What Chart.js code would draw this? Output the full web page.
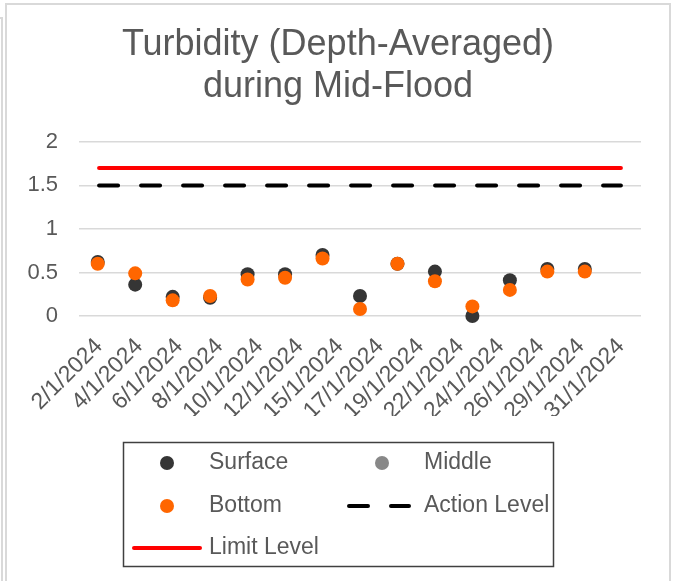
<!DOCTYPE html>
<html>
<head>
<meta charset="utf-8">
<script src="https://cdn.jsdelivr.net/npm/chart.js@4.4.1/dist/chart.umd.min.js"></script>
<style>
  html, body { margin: 0; padding: 0; background: #fff; overflow: hidden; }
  #left-edge { position: absolute; left: -12px; top: 17px; width: 11px; height: 600px; border: 2px solid #d9d9d9; }
  #frame { position: absolute; left: 5px; top: 3px; width: 662px; height: 600px; border: 2px solid #d9d9d9; background: #fff; }
  #wrap { position: absolute; left: 0; top: 0; width: 662px; height: 576px; }
</style>
</head>
<body>
<div id="left-edge"></div>
<div id="frame"><div id="wrap"><canvas id="turbidity-chart"></canvas></div></div>
<script>
var dates = ["2/1/2024", "4/1/2024", "6/1/2024", "8/1/2024", "10/1/2024", "12/1/2024", "15/1/2024",
             "17/1/2024", "19/1/2024", "22/1/2024", "24/1/2024", "26/1/2024", "29/1/2024", "31/1/2024"];
var surface = [0.62, 0.36, 0.22, 0.21, 0.48, 0.48, 0.70, 0.23, 0.60, 0.51, 0.00, 0.41, 0.54, 0.54];
var middle = [null, null, null, null, null, null, null, null, null, null, null, null, null, null];
var bottom = [0.60, 0.49, 0.18, 0.23, 0.42, 0.44, 0.66, 0.08, 0.60, 0.40, 0.11, 0.30, 0.51, 0.51];
var actionLevel = [1.5, 1.5, 1.5, 1.5, 1.5, 1.5, 1.5, 1.5, 1.5, 1.5, 1.5, 1.5, 1.5, 1.5];
var limitLevel = [1.7, 1.7, 1.7, 1.7, 1.7, 1.7, 1.7, 1.7, 1.7, 1.7, 1.7, 1.7, 1.7, 1.7];
var yTicks = [0, 0.5, 1, 1.5, 2];

var FONT = '"Liberation Sans", Arial, sans-serif';
var TEXT = '#595959';
Chart.defaults.font.family = FONT;
Chart.defaults.color = TEXT;

// the dots sit on a hidden axis with one spare slot, like the excel sheet
var dotSlots = dates.concat([""]);

// legend drawn inside a box, two columns
var legendBox = { x: 116.5, y: 437.5, w: 430, h: 124 };
var legendSlots = [
  { x: 160, y: 458, textX: 202 },
  { x: 375, y: 458, textX: 417 },
  { x: 160, y: 501, textX: 202 },
  { x: 340, x2: 404, y: 501, textX: 417 },
  { x: 125, x2: 195, y: 543, textX: 202 }
];

var boxLegend = {
  id: 'boxLegend',
  afterDraw: function (chart) {
    var ctx = chart.ctx;
    ctx.save();
    ctx.strokeStyle = '#404040';
    ctx.lineWidth = 1.5;
    ctx.strokeRect(legendBox.x, legendBox.y, legendBox.w, legendBox.h);
    ctx.beginPath();
    ctx.rect(legendBox.x, legendBox.y, legendBox.w, legendBox.h);
    ctx.clip();
    chart.data.datasets.forEach(function (ds, i) {
      var s = legendSlots[i];
      if (s.x2) {
        ctx.save();
        ctx.strokeStyle = ds.borderColor;
        ctx.lineWidth = ds.borderWidth;
        ctx.lineCap = 'round';
        ctx.setLineDash(ds.borderDash || []);
        ctx.beginPath();
        ctx.moveTo(s.x + 2, s.y);
        ctx.lineTo(s.x2 - 2, s.y);
        ctx.stroke();
        ctx.restore();
      } else {
        ctx.fillStyle = ds.backgroundColor;
        ctx.beginPath();
        ctx.arc(s.x, s.y, 7, 0, Math.PI * 2);
        ctx.fill();
      }
      ctx.fillStyle = TEXT;
      ctx.font = '23px ' + FONT;
      ctx.textBaseline = 'middle';
      ctx.textAlign = 'left';
      ctx.fillText(ds.label, s.textX, s.y);
    });
    ctx.restore();
  }
};

function dots(label, values, colour, order) {
  return {
    label: label,
    data: values,
    xAxisID: 'x2',
    showLine: false,
    clip: false,
    backgroundColor: colour,
    borderColor: colour,
    pointRadius: 7,
    pointBorderWidth: 0,
    pointHoverRadius: 7,
    order: order
  };
}

new Chart(document.getElementById('turbidity-chart'), {
  type: 'line',
  data: {
    labels: dates,
    datasets: [
      dots('Surface', surface, '#353535', 3),
      dots('Middle', middle, '#888888', 2),
      dots('Bottom', bottom, '#ff6600', 1),
      {
        label: 'Action Level',
        data: actionLevel,
        borderColor: '#000000',
        backgroundColor: '#000000',
        borderWidth: 4,
        borderDash: [19, 23],
        borderCapStyle: 'round',
        pointRadius: 0,
        order: 0
      },
      {
        label: 'Limit Level',
        data: limitLevel,
        borderColor: '#ff0000',
        backgroundColor: '#ff0000',
        borderWidth: 4,
        borderCapStyle: 'round',
        pointRadius: 0,
        order: 0
      }
    ]
  },
  options: {
    responsive: true,
    maintainAspectRatio: false,
    animation: false,
    layout: { padding: { left: 0, right: 0, top: 0, bottom: 165 } },
    plugins: {
      legend: { display: false },
      tooltip: { enabled: false },
      title: {
        display: true,
        text: ['Turbidity (Depth-Averaged)', 'during Mid-Flood'],
        color: TEXT,
        font: { size: 36, weight: 'normal', lineHeight: 1.186 },
        padding: { top: 18.5, bottom: 33 }
      }
    },
    scales: {
      x: {
        offset: true,
        grid: { display: false, drawTicks: false },
        border: { display: false },
        ticks: { autoSkip: false, minRotation: 45, maxRotation: 45, padding: 17, color: TEXT, font: { size: 23 } },
        afterFit: function (s) { s.height = 100; }
      },
      x2: {
        type: 'category',
        labels: dotSlots,
        offset: true,
        display: false
      },
      y: {
        min: 0,
        max: 2,
        grid: { color: '#d9d9d9', lineWidth: 1.5, drawTicks: false },
        border: { display: false },
        ticks: {
          padding: 21, color: TEXT, font: { size: 22 },
          callback: function (v) { return String(v); }
        },
        afterBuildTicks: function (s) { s.ticks = yTicks.map(function (v) { return { value: v }; }); },
        afterFit: function (s) { s.width = 72; }
      },
      // empty right-hand margin, so the title stays centred on the whole frame
      yRight: {
        position: 'right',
        grid: { display: false, drawTicks: false },
        border: { display: false },
        ticks: { display: false },
        afterFit: function (s) { s.width = 28; }
      }
    }
  },
  plugins: [boxLegend]
});
</script>
</body>
</html>
